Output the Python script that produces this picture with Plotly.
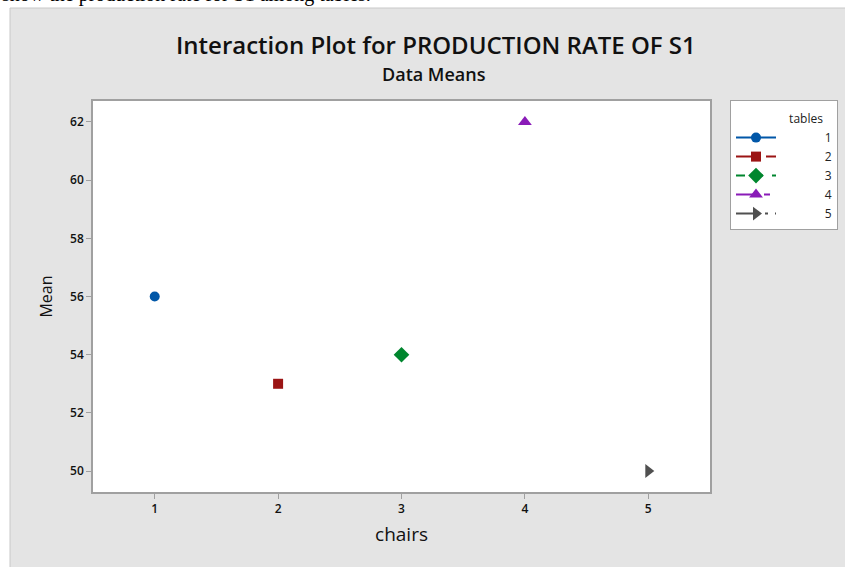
import plotly.graph_objects as go

tables = ["1", "2", "3", "4", "5"]
chairs = [1, 2, 3, 4, 5]
means = [56, 53, 54, 62, 50]
colors = ["#0157A8", "#9B1414", "#00862E", "#8A1BB8", "#505050"]
symbols = ["circle", "square", "diamond", "triangle-up", "triangle-right"]
sizes = [10, 10, 12, 12, 12]
dashes = ["solid", "longdash", "dash", "22px,6px,6px,6px", "22px,7px,3px,7px"]

W, H = 845, 567
L, R, T, B = 93, 710, 101, 492
pw, ph = R - L, B - T

def px(x):
    return (x - L) / pw

def py(y):
    return (B - y) / ph

FONT = "Open Sans"

fig = go.Figure()
for t, c, m, col, sym, sz, d in zip(tables, chairs, means, colors, symbols, sizes, dashes):
    fig.add_trace(go.Scatter(
        x=[c], y=[m], mode="lines+markers",
        name="\u00a0" * 14 + t,
        line=dict(color=col, width=2, dash=d),
        marker=dict(color=col, symbol=sym, size=sz),
    ))

fig.update_layout(
    width=W, height=H,
    margin=dict(l=L, r=W - R, t=T, b=H - B, autoexpand=False),
    paper_bgcolor="#e4e4e4",
    plot_bgcolor="white",
    font=dict(family=FONT, color="#222222"),
    showlegend=True,
    legend=dict(
        x=px(730), y=py(100), xanchor="left", yanchor="top",
        bordercolor="#a0a0a0", borderwidth=1, bgcolor="white",
        font=dict(size=12, color="#222222"),
        title=dict(text="<span style='font-size:12px'>" + "\u00a0" * 18 + "tables</span>",
                   font=dict(size=17)),
        itemwidth=40, tracegroupgap=0,
    ),
    xaxis=dict(
        range=[0.5, 5.5], tickvals=chairs, ticktext=[str(c) for c in chairs],
        showgrid=False, zeroline=False, showline=True, linecolor="#a0a0a0",
        linewidth=1.5, mirror=True, ticks="outside", ticklen=5, tickcolor="#a0a0a0",
        tickfont=dict(size=12, color="#111111", weight=600),
        title=dict(text="chairs", font=dict(size=19, color="#111111", weight=500), standoff=12),
    ),
    yaxis=dict(
        range=[49.28, 62.72], tickvals=[50, 52, 54, 56, 58, 60, 62],
        showgrid=False, zeroline=False, showline=True, linecolor="#a0a0a0",
        linewidth=1.5, mirror=True, ticks="outside", ticklen=5, tickcolor="#a0a0a0",
        tickfont=dict(size=12, color="#111111", weight=600),
        title=dict(text="Mean", font=dict(size=16, color="#111111", weight=500), standoff=14),
    ),
    shapes=[
        dict(type="rect", xref="paper", yref="paper", layer="below",
             x0=px(-5), x1=px(850), y0=py(8), y1=py(-5),
             fillcolor="white", line=dict(width=0)),
        dict(type="rect", xref="paper", yref="paper", layer="below",
             x0=px(-5), x1=px(10), y0=py(572), y1=py(-5),
             fillcolor="white", line=dict(width=0)),
        dict(type="line", xref="paper", yref="paper", layer="below",
             x0=px(10), x1=px(850), y0=py(8), y1=py(8),
             line=dict(color="#c8c8c8", width=1)),
        dict(type="line", xref="paper", yref="paper", layer="below",
             x0=px(10), x1=px(10), y0=py(8), y1=py(572),
             line=dict(color="#c8c8c8", width=1)),
    ],
    annotations=[
        dict(text="Interaction Plot for PRODUCTION RATE OF S1", xref="paper", yref="paper",
             x=px(436), y=py(45), xanchor="center", yanchor="middle", showarrow=False,
             font=dict(size=24, color="#111111", family=FONT, weight=600)),
        dict(text="Data Means", xref="paper", yref="paper",
             x=px(434), y=py(74), xanchor="center", yanchor="middle", showarrow=False,
             font=dict(size=18, color="#111111", family=FONT, weight=600)),
        dict(text="show the production rate for S1 among tables.", xref="paper", yref="paper",
             x=px(0), y=py(7.5), xanchor="left", yanchor="bottom", showarrow=False,
             font=dict(size=20, color="#000000", family="Liberation Serif")),
    ],
)

fig.write_html(
    "out.html",
    config={"displayModeBar": False},
    post_script="document.body.style.margin='0px';document.body.style.overflow='hidden';",
)
